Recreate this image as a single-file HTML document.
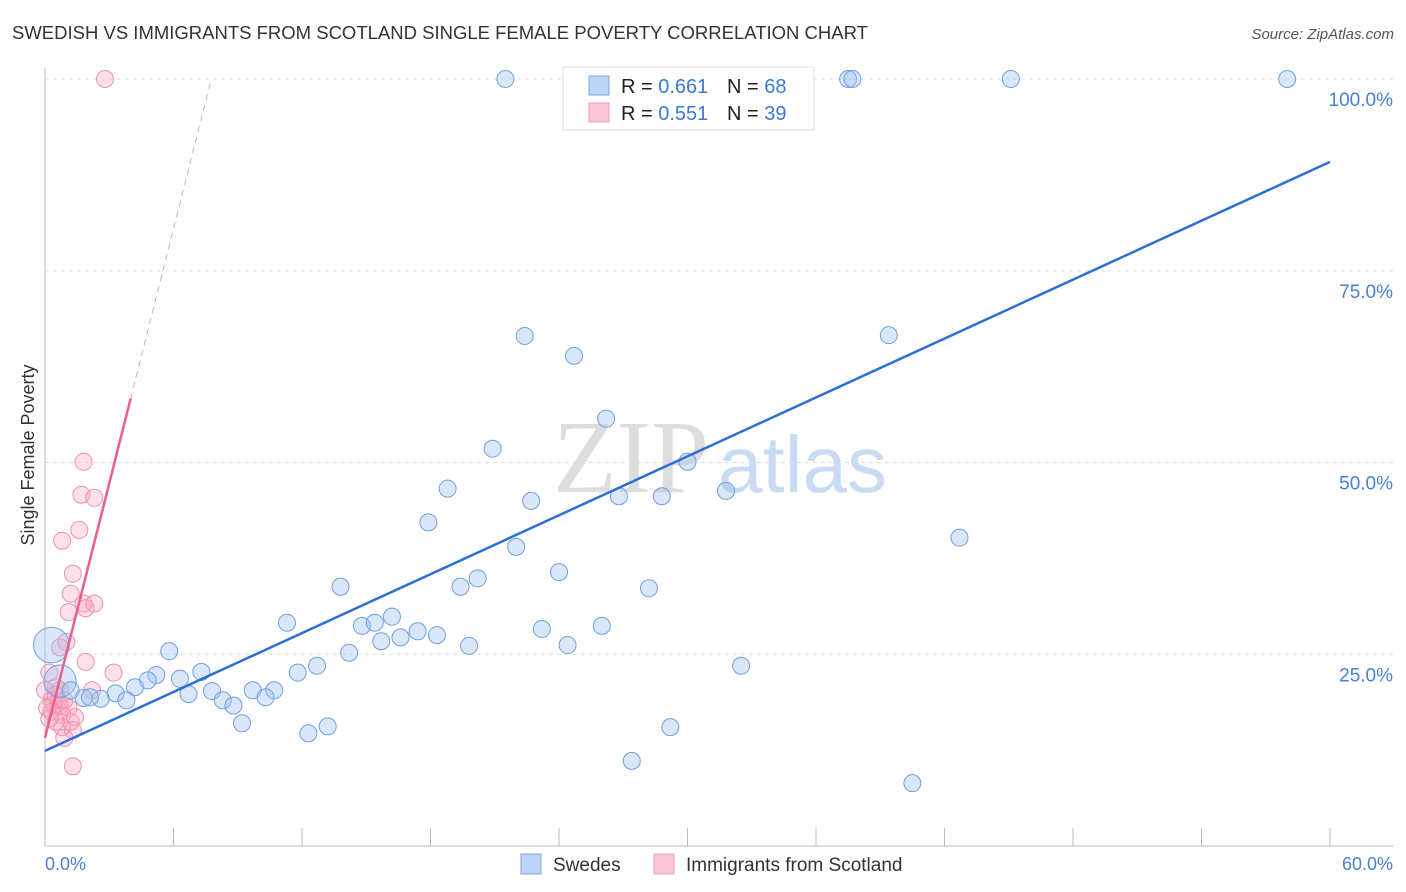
<!DOCTYPE html>
<html><head><meta charset="utf-8"><style>
body{margin:0;background:#fff;font-family:"Liberation Sans",sans-serif}
svg{display:block}
</style></head><body>
<svg id="c" width="1406" height="892">
<text x="12" y="39" font-size="18.5" fill="#333">SWEDISH VS IMMIGRANTS FROM SCOTLAND SINGLE FEMALE POVERTY CORRELATION CHART</text>
<text x="1394" y="39" font-size="15" fill="#555" font-style="italic" text-anchor="end">Source: ZipAtlas.com</text>
<g><text x="553" y="492" font-size="104" fill="#ddd" font-family="Liberation Serif,serif">ZIP</text><text x="718" y="492" font-size="80" fill="#c9dbf3">atlas</text></g>
<text transform="translate(34,455) rotate(-90)" font-size="18" fill="#333" text-anchor="middle">Single Female Poverty</text>
<g id="axes"></g><g id="marks"></g>
<g>
<rect x="563" y="67" width="251" height="63" fill="#fff" stroke="#ddd"/>
<rect x="589" y="76" width="20" height="19" fill="#bcd4f5" stroke="#7aa7e3"/>
<rect x="589" y="103" width="20" height="19" fill="#fcc8d8" stroke="#f29ab5"/>
<text x="621" y="93" font-size="20" fill="#222">R = <tspan fill="#3b78d8">0.661</tspan></text>
<text x="727" y="93" font-size="20" fill="#222">N = <tspan fill="#3b78d8">68</tspan></text>
<text x="621" y="120" font-size="20" fill="#222">R = <tspan fill="#3b78d8">0.551</tspan></text>
<text x="727" y="120" font-size="20" fill="#222">N = <tspan fill="#3b78d8">39</tspan></text>
</g>
<g>
<rect x="521" y="854" width="20" height="20" fill="#bcd4f5" stroke="#7aa7e3"/>
<text x="553" y="871" font-size="19" fill="#333">Swedes</text>
<rect x="654" y="854" width="20" height="20" fill="#fcc8d8" stroke="#f29ab5"/>
<text x="686" y="871" font-size="19" fill="#333">Immigrants from Scotland</text>
</g>
</svg>
<script>
const yTicks=[25,50,75,100];
const yTickLabels=["25.0%","50.0%","75.0%","100.0%"];
const blueX=[21.5,31.1,37.5,37.7,45.1,58.0,22.4,24.7,39.4,26.2,20.9,30.0,18.8,26.8,28.8,31.8,22.7,17.9,42.7,22.0,24.0,20.2,19.4,13.8,28.2,16.2,11.3,14.8,15.4,17.4,16.6,15.7,18.3,23.2,26.0,19.8,24.4,14.2,5.8,32.5,12.7,11.8,7.3,5.2,4.8,6.3,4.2,7.8,9.7,10.7,6.7,8.3,3.3,2.6,3.8,1.8,10.3,8.8,9.2,13.2,12.3,29.2,27.4,40.5,0.3,0.7,1.2,2.1];
const blueY=[100,100,100,100,100,100,66.5,63.9,66.6,55.7,51.8,50.1,46.6,45.6,45.6,46.3,45.0,42.2,40.2,39.0,35.7,34.9,33.8,33.8,33.6,29.9,29.1,28.7,29.1,28.0,27.2,26.7,27.5,28.3,28.7,26.1,26.2,25.2,25.4,23.5,23.5,22.6,22.7,22.3,21.6,21.8,20.7,20.2,20.3,20.3,19.8,19.0,19.9,19.2,19.0,19.3,19.4,18.3,16.0,15.6,14.7,15.5,11.1,8.2,26.2,21.5,20.3,19.4];
const blueSize=blueX.map((_,i)=>i==64?2.1:i==65?1.9:1);
const pinkX=[2.8,1.8,1.7,2.3,1.6,0.8,1.3,1.2,1.1,1.8,1.9,2.3,0.7,1.0,1.9,3.2,2.2,0.5,0.3,0.4,0.6,0.3,0.7,0.8,1.1,1.2,1.4,0.8,0.9,1.3,0.2,0.1,0.5,1.3,0.0,0.7,0.5,0.9,0.2];
const pinkY=[100,50.1,45.8,45.4,41.2,39.8,35.5,32.9,30.5,31.6,31.0,31.6,25.9,26.6,24.0,22.6,20.3,20.7,19.0,18.4,18.6,17.5,18.3,17.1,18.0,16.2,16.8,15.5,14.1,10.4,22.6,18.0,16.2,15.1,20.3,20.3,19.7,19.0,16.6];
const blueFit=[12.4,89.2];
const pinkFit=[14.1,11.06];
const pinkSolidEnd=4.0;
const NS="http://www.w3.org/2000/svg";
const X=v=>45+v/60*1285, Y=v=>846-v/100*767;
function mk(t,a,p){const e=document.createElementNS(NS,t);for(const k in a)e.setAttribute(k,a[k]);p.appendChild(e);return e;}
const ax=document.getElementById('axes'),mg=document.getElementById('marks');
yTicks.forEach((t,i)=>{
 const g=mk('line',{x1:45,x2:1393,y1:Y(t),y2:Y(t),stroke:'#ddd','stroke-dasharray':'4,4'},ax);
 
 
 const l=mk('text',{x:1393,y:Y(t)+27,'font-size':19,fill:'#4a7fd4','text-anchor':'end'},ax);l.textContent=yTickLabels[i];
 
 
});
mk('line',{x1:45,x2:45,y1:68,y2:846,stroke:'#bbb'},ax);
mk('line',{x1:45,x2:1393,y1:846,y2:846,stroke:'#bbb'},ax);
for(let i=0;i<=10;i++){const t=mk('line',{x1:X(i*6),x2:X(i*6),y1:828,y2:846,stroke:'#bbb'},ax);
 
 }
const x0=mk('text',{x:45,y:870,'font-size':18,fill:'#4a7fd4'},ax);x0.textContent='0.0%';


const x1=mk('text',{x:1393,y:870,'font-size':18,fill:'#4a7fd4','text-anchor':'end'},ax);x1.textContent='60.0%';


pinkX.forEach((v,i)=>{const c=mk('circle',{cx:X(v),cy:Y(pinkY[i]),r:8.5,fill:'rgba(248,165,192,0.35)',stroke:'#f090b0','stroke-width':1},mg);
 
 });
blueX.forEach((v,i)=>{const c=mk('circle',{cx:X(v),cy:Y(blueY[i]),r:8.5*blueSize[i],fill:'rgba(160,196,240,0.4)',stroke:'#6fa0e0','stroke-width':1},mg);
 
 });
const bl=mk('line',{x1:X(0),y1:Y(blueFit[0]),x2:X(60),y2:Y(blueFit[1]),stroke:'#2a6fd6','stroke-width':2.5},mg);


const pl=mk('line',{x1:X(0),y1:Y(pinkFit[0]),x2:X(pinkSolidEnd),y2:Y(pinkFit[0]+pinkFit[1]*pinkSolidEnd),stroke:'#e8608c','stroke-width':2.5},mg);


const xe=(100-pinkFit[0])/pinkFit[1];
const pd=mk('line',{x1:X(pinkSolidEnd),y1:Y(pinkFit[0]+pinkFit[1]*pinkSolidEnd),x2:X(xe),y2:Y(100),stroke:'#f0a0b8','stroke-width':1,'stroke-dasharray':'6,5'},mg);


</script>
</body></html>
